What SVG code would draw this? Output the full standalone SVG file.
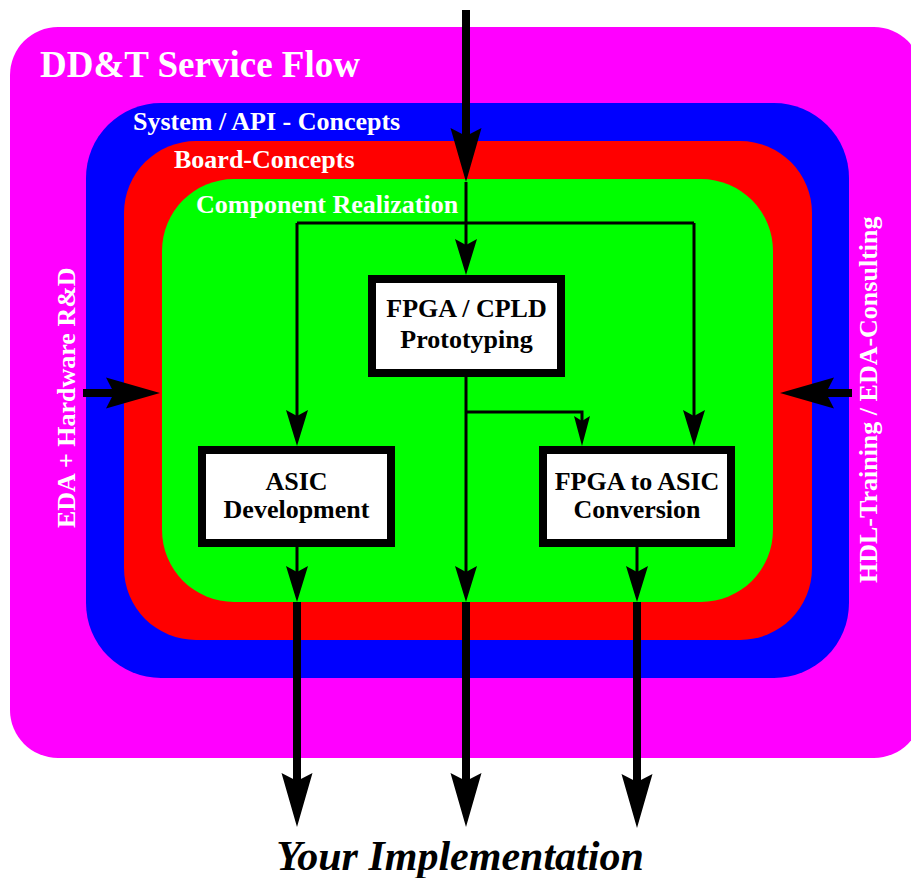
<svg xmlns="http://www.w3.org/2000/svg" width="911" height="878" viewBox="0 0 911 878">
  <style>
    .lbl { font-family: "Liberation Serif", "Times New Roman", serif; font-weight: bold; fill: #ffffff; font-size: 26px; }
    .title { font-size: 37px; }
    .box rect { fill: #ffffff; stroke: #000000; stroke-width: 8; }
    .box text { font-family: "Liberation Serif", "Times New Roman", serif; font-weight: bold; fill: #000000; font-size: 26px; text-anchor: middle; }
    .thin { fill: none; stroke: #000000; stroke-width: 3; }
    .thick { fill: none; stroke: #000000; stroke-width: 8; }
  </style>
  <defs>
    <marker id="ahBig" markerUnits="userSpaceOnUse" orient="auto" overflow="visible" refX="8" refY="0" markerWidth="54" markerHeight="31">
      <path d="M0,-15.5 L54,0 L0,15.5 L8,0 Z" fill="#000000"/>
    </marker>
    <marker id="ahThin" markerUnits="userSpaceOnUse" orient="auto" overflow="visible" refX="6" refY="0" markerWidth="36" markerHeight="22">
      <path d="M0,-11 L36,0 L0,11 L6,0 Z" fill="#000000"/>
    </marker>
    <marker id="ahSmall" markerUnits="userSpaceOnUse" orient="auto" overflow="visible" refX="5" refY="0" markerWidth="30" markerHeight="16">
      <path d="M0,-8 L30,0 L0,8 L5,0 Z" fill="#000000"/>
    </marker>
  </defs>

  <!-- nested service areas -->
  <g id="area-service">
    <rect x="10" y="27" width="912" height="731" rx="48" ry="48" fill="#ff00ff"/>
    <text class="lbl title" x="40" y="77">DD&amp;T Service Flow</text>
    <text class="lbl" transform="translate(75,528) rotate(-90)">EDA + Hardware R&amp;D</text>
    <text class="lbl" transform="translate(877,583) rotate(-90)">HDL-Training / EDA-Consulting</text>
  </g>
  <g id="area-system">
    <rect x="86" y="103" width="763" height="575" rx="75" ry="75" fill="#0000ff"/>
    <text class="lbl" x="133" y="130">System / API - Concepts</text>
  </g>
  <g id="area-board">
    <rect x="124" y="141" width="688" height="499" rx="72" ry="72" fill="#ff0000"/>
    <text class="lbl" x="174" y="168">Board-Concepts</text>
  </g>
  <g id="area-component">
    <rect x="162" y="179" width="611" height="423" rx="72" ry="72" fill="#00ff00"/>
    <text class="lbl" x="196" y="213">Component Realization</text>
  </g>

  <!-- process boxes -->
  <g id="fpga-cpld" class="box">
    <rect x="372" y="279" width="189" height="94"/>
    <text x="466.5" y="317">FPGA / CPLD</text>
    <text x="466.5" y="348">Prototyping</text>
  </g>
  <g id="asic-dev" class="box">
    <rect x="202" y="450" width="189" height="93"/>
    <text x="296.5" y="490">ASIC</text>
    <text x="296.5" y="518">Development</text>
  </g>
  <g id="fpga-asic" class="box">
    <rect x="543" y="450" width="188" height="93"/>
    <text x="637" y="490">FPGA to ASIC</text>
    <text x="637" y="518">Conversion</text>
  </g>

  <!-- connectors -->
  <g id="connectors">
    <path class="thick" d="M466,10 V136" marker-end="url(#ahBig)"/>
    <path class="thin" d="M466,182 V245" marker-end="url(#ahThin)"/>
    <path class="thin" d="M297,223 H694"/>
    <path class="thin" d="M297,223 V416" marker-end="url(#ahThin)"/>
    <path class="thin" d="M694,223 V416" marker-end="url(#ahThin)"/>
    <path class="thin" d="M466,377 V572" marker-end="url(#ahThin)"/>
    <path class="thin" d="M466,412 H582 V421" marker-end="url(#ahSmall)"/>
    <path class="thin" d="M297,547 V572" marker-end="url(#ahThin)"/>
    <path class="thin" d="M637,547 V572" marker-end="url(#ahThin)"/>
    <path class="thick" d="M297,602 V781" marker-end="url(#ahBig)"/>
    <path class="thick" d="M466,602 V781" marker-end="url(#ahBig)"/>
    <path class="thick" d="M637,602 V782" marker-end="url(#ahBig)"/>
    <path class="thick" d="M83,393 H114" marker-end="url(#ahBig)"/>
    <path class="thick" d="M852,393 H826" marker-end="url(#ahBig)"/>
  </g>

  <g id="result">
    <text x="460" y="870" text-anchor="middle" font-family="'Liberation Serif', 'Times New Roman', serif" font-weight="bold" font-style="italic" font-size="42" fill="#000000">Your Implementation</text>
  </g>
</svg>
